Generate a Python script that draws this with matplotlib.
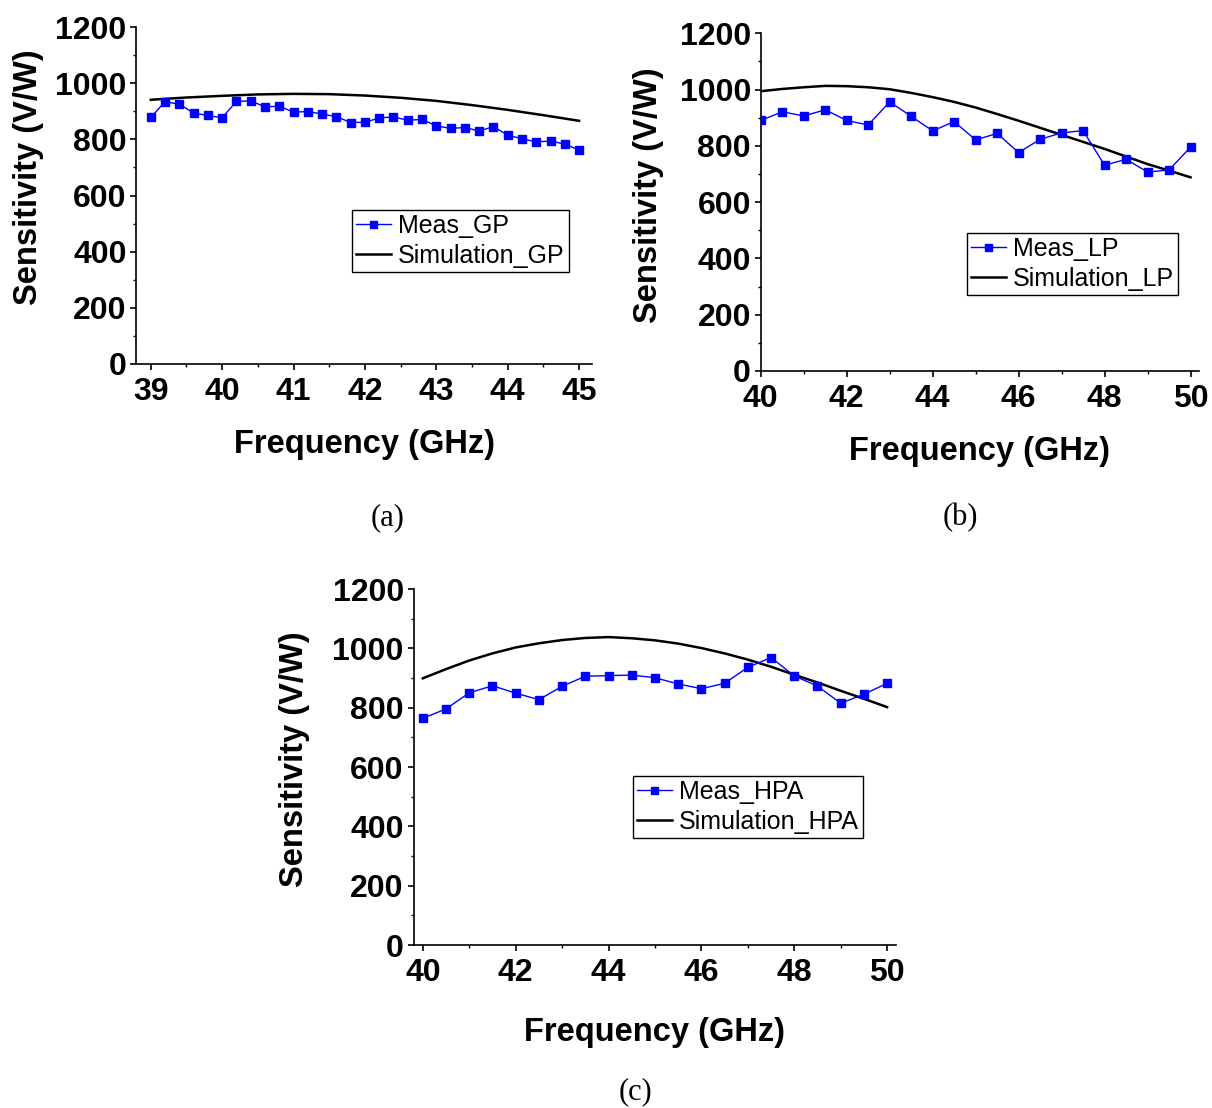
import numpy as np
import matplotlib
matplotlib.use("Agg")
import matplotlib.pyplot as plt
from matplotlib.ticker import MultipleLocator

# ---------------- data ----------------
freq_gp = [39.0, 39.2, 39.4, 39.6, 39.8, 40.0, 40.2, 40.4, 40.6, 40.8, 41.0,
           41.2, 41.4, 41.6, 41.8, 42.0, 42.2, 42.4, 42.6, 42.8, 43.0, 43.2,
           43.4, 43.6, 43.8, 44.0, 44.2, 44.4, 44.6, 44.8, 45.0]
meas_gp = [878, 934, 925, 894, 885, 877, 935, 937, 916, 918, 897,
           899, 890, 881, 860, 861, 876, 880, 868, 871, 848, 839,
           842, 830, 845, 815, 802, 791, 794, 783, 762]
sim_freq_gp = [39.0, 39.5, 40.0, 40.5, 41.0, 41.5, 42.0, 42.5, 43.0, 43.5, 44.0, 44.5, 45.0]
sim_gp = [941, 949, 955, 960, 962, 961, 956, 948, 937, 922, 905, 886, 866]

freq_lp = [40.0, 40.5, 41.0, 41.5, 42.0, 42.5, 43.0, 43.5, 44.0, 44.5, 45.0,
           45.5, 46.0, 46.5, 47.0, 47.5, 48.0, 48.5, 49.0, 49.5, 50.0]
meas_lp = [890, 921, 906, 928, 890, 874, 956, 905, 853, 886, 821,
           844, 776, 823, 846, 854, 731, 752, 707, 714, 795]
sim_lp = [994, 1002, 1008, 1013, 1012, 1008, 1001, 988, 973, 956, 936,
          913, 889, 864, 839, 814, 789, 762, 735, 712, 688]

freq_hpa = [40.0, 40.5, 41.0, 41.5, 42.0, 42.5, 43.0, 43.5, 44.0, 44.5, 45.0,
            45.5, 46.0, 46.5, 47.0, 47.5, 48.0, 48.5, 49.0, 49.5, 50.0]
meas_hpa = [764, 796, 850, 874, 849, 827, 872, 906, 908, 910, 901,
            880, 864, 882, 936, 969, 907, 873, 815, 845, 882]
sim_hpa = [899, 930, 959, 983, 1003, 1017, 1028, 1035, 1038, 1034, 1027,
           1016, 1001, 983, 962, 938, 911, 885, 857, 830, 802]

y_ticks = [0, 200, 400, 600, 800, 1000, 1200]
xticks_a = [39, 40, 41, 42, 43, 44, 45]
xticks_bc = [40, 42, 44, 46, 48, 50]
captions = ["(a)", "(b)", "(c)"]

# ---------------- style ----------------
W, H = 1212, 1108
fig = plt.figure(figsize=(W / 100, H / 100), dpi=100)

SANS = ["Liberation Sans", "DejaVu Sans"]
SERIF = ["Liberation Serif", "DejaVu Serif"]


def make_panel(rect, x_meas, y_meas, x_sim, y_sim, xlim, xticks, xminor,
               meas_label, sim_label, leg_anchor, ylab_xy, xlabpad):
    ax = fig.add_axes(rect)
    ax.plot(x_meas, y_meas, color="#0000FF", lw=1.0, marker="s", ms=6.3,
            mfc="#0000FF", mec="#0000FF", label=meas_label, zorder=3)
    ax.plot(x_sim, y_sim, color="black", lw=1.8, label=sim_label, zorder=2)
    ax.set_xlim(*xlim)
    ax.set_ylim(0, 1200)
    ax.set_xticks(xticks)
    ax.set_yticks(y_ticks)
    ax.xaxis.set_minor_locator(MultipleLocator(xminor))
    ax.yaxis.set_minor_locator(MultipleLocator(100))
    for s in ["top", "right"]:
        ax.spines[s].set_visible(False)
    for s in ["left", "bottom"]:
        ax.spines[s].set_linewidth(1.2)
    ax.tick_params(which="major", direction="out", length=4.5, width=1.2,
                   labelsize=23)
    ax.tick_params(axis="x", which="major", pad=5)
    ax.tick_params(axis="y", which="major", pad=2.5)
    ax.tick_params(which="minor", direction="out", length=2.5, width=1.0)
    for lab in ax.get_xticklabels() + ax.get_yticklabels():
        lab.set_fontfamily(SANS)
        lab.set_fontweight("bold")
    ax.set_xlabel("Frequency (GHz)", fontsize=23.5, fontweight="bold",
                  family=SANS, labelpad=xlabpad)
    ax.set_ylabel("Sensitivity (V/W)", fontsize=23.5, fontweight="bold",
                  family=SANS)
    ax.yaxis.set_label_coords(*ylab_xy)
    leg = ax.legend(loc="upper left", bbox_to_anchor=leg_anchor,
                    borderaxespad=0, frameon=True, fancybox=False,
                    edgecolor="black", framealpha=1,
                    prop={"family": SANS, "size": 18},
                    handlelength=1.4, handletextpad=0.3, borderpad=0.15,
                    labelspacing=0.25, markerscale=0.8)
    leg.get_frame().set_linewidth(1.0)
    return ax


# panel (a)
make_panel([0.1126, 0.6715, 0.3758, 0.3041], freq_gp, meas_gp, sim_freq_gp, sim_gp,
           (38.8, 45.18), xticks_a, 0.5, "Meas_GP", "Simulation_GP",
           (0.473, 0.457), (-0.203, 0.555), 16)
# panel (b)
make_panel([0.6277, 0.6652, 0.3613, 0.3048], freq_lp, meas_lp, freq_lp, sim_lp,
           (40.0, 50.19), xticks_bc, 1.0, "Meas_LP", "Simulation_LP",
           (0.471, 0.409), (-0.221, 0.521), 16)
# panel (c)
make_panel([0.3412, 0.1471, 0.3980, 0.3213], freq_hpa, meas_hpa, freq_hpa, sim_hpa,
           (39.8, 50.19), xticks_bc, 1.0, "Meas_HPA", "Simulation_HPA",
           (0.455, 0.475), (-0.215, 0.522), 21)

# captions
for cap, (px, py) in zip(captions, [(388, 518), (960, 518), (635, 1092)]):
    fig.text(px / W, 1 - py / H, cap, ha="center", va="center",
             fontsize=22, family=SERIF)

fig.savefig("out.png", dpi=100)
